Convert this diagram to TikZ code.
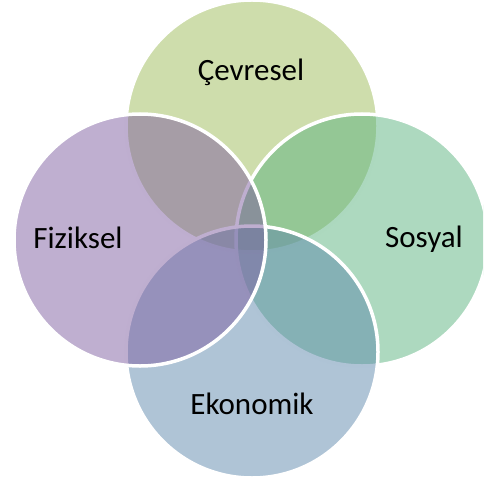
\documentclass[tikz,border=0pt]{standalone}
\usepackage{fontspec}
\setmainfont{Carlito}
\definecolor{cevcol}{RGB}{157,187,89}
\definecolor{soscol}{RGB}{91,179,127}
\definecolor{ekocol}{RGB}{95,137,173}
\definecolor{fizcol}{RGB}{127,95,161}
\tikzset{set/.style={draw=white, circle, line width=3.5pt, minimum size=252pt, inner sep=0pt, fill opacity=0.5}}
\tikzset{lbl/.style={anchor=base, inner sep=0pt, font=\fontsize{31}{37}\selectfont}}
\begin{document}
\begin{tikzpicture}[x=1pt,y=-1pt]
        \useasboundingbox (0,0) rectangle (483,486);
        \clip (0,0) rectangle (483,486);

        \node[set, fill=cevcol] (cev) at (252,126) {};
        \node[set, fill=soscol] (sos) at (362,240) {};
        \node[set, fill=ekocol] (eko) at (252,352) {};
        \node[set, fill=fizcol] (fiz) at (140,240) {};

        \node[lbl] (cevl) at (251,81) {Çevresel};
        \node[lbl] (sosl) at (424,247) {Sosyal};
        \node[lbl] (ekol) at (252,414) {Ekonomik};
        \node[lbl] (fizl) at (78,248) {Fiziksel};
\end{tikzpicture}
\end{document}
